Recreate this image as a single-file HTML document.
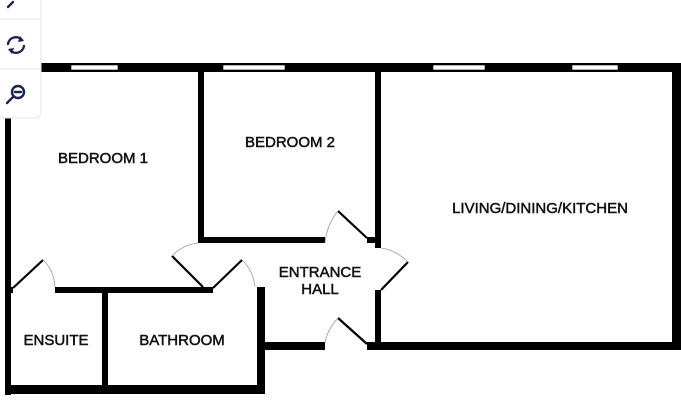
<!DOCTYPE html>
<html><head><style>
html,body{margin:0;padding:0;background:#fff;width:681px;height:418px;overflow:hidden}
svg{display:block}
text{font-family:"Liberation Sans",sans-serif;font-size:15px;fill:#111;text-anchor:middle;stroke:#111;stroke-width:0.5px}
</style></head><body>
<svg width="681" height="418" viewBox="0 0 681 418">
<rect width="681" height="418" fill="#fff"/>
<g fill="#000">
<rect x="5" y="63" width="676" height="9"/>
<rect x="672" y="63" width="9" height="287"/>
<rect x="5" y="63" width="6" height="332"/>
<rect x="5" y="385" width="260" height="9"/>
<rect x="257" y="287" width="8" height="107"/>
<rect x="257" y="342" width="68" height="8"/>
<rect x="367" y="342" width="314" height="8"/>
<rect x="198" y="63" width="6" height="180"/>
<rect x="198" y="237" width="127" height="6"/>
<rect x="367" y="237" width="14" height="6"/>
<rect x="375" y="63" width="6" height="185"/>
<rect x="375" y="290" width="6" height="60"/>
<rect x="5" y="287" width="8" height="6"/>
<rect x="55" y="287" width="158" height="6"/>
<rect x="102" y="287" width="6" height="100"/>
</g>
<g fill="#fff" stroke="#000" stroke-width="0.6">
<rect x="71" y="65" width="47" height="5"/>
<rect x="223" y="65" width="62" height="5"/>
<rect x="433" y="65" width="52" height="5"/>
<rect x="572" y="65" width="46" height="5"/>
</g>
<g stroke="#000" stroke-width="2.2" fill="none">
<line x1="13" y1="288" x2="43" y2="260"/>
<line x1="172" y1="256" x2="203" y2="287"/>
<line x1="213" y1="288" x2="242" y2="260"/>
<line x1="338" y1="211" x2="367" y2="238"/>
<line x1="381" y1="290" x2="408" y2="262"/>
<line x1="338" y1="318" x2="367" y2="344"/>
</g>
<g stroke="#999" stroke-width="0.8" fill="none">
<path d="M43 260 Q54 270 55 287"/>
<path d="M172 256 Q182 245 198 243"/>
<path d="M242 260 Q253 270 255 287"/>
<path d="M338 211 Q327 224 325 243"/>
<path d="M408 262 Q396 250 381 248"/>
<path d="M338 318 Q327 330 325 343"/>
</g>
<text x="103" y="163">BEDROOM 1</text>
<text x="290" y="147">BEDROOM 2</text>
<text x="540" y="213">LIVING/DINING/KITCHEN</text>
<text x="320" y="277">ENTRANCE</text>
<text x="320" y="294">HALL</text>
<text x="56" y="345">ENSUITE</text>
<text x="182" y="345">BATHROOM</text>
<rect x="-6" y="-6" width="47" height="124" rx="6" fill="#fff" stroke="#e6e6e6"/>
<line x1="0" y1="19" x2="41" y2="19" stroke="#e6e6e6"/>
<line x1="0" y1="69" x2="41" y2="69" stroke="#e6e6e6"/>
<g stroke="#1a2550" stroke-width="2.4" fill="none" stroke-linecap="round">
<path d="M8 7 L13 2"/>
<path d="M8 44 A8 8 0 0 1 22 40"/>
<path d="M24 46 A8 8 0 0 1 10 50"/>
<circle cx="18" cy="92" r="6"/>
<path d="M15 92 H21"/>
<path d="M13 97 L7 103"/>
</g>
<g fill="#1a2550">
<path d="M20 36 L24 41 L18 42 Z"/>
<path d="M12 54 L8 49 L14 48 Z"/>
</g>
</svg>
</body></html>
